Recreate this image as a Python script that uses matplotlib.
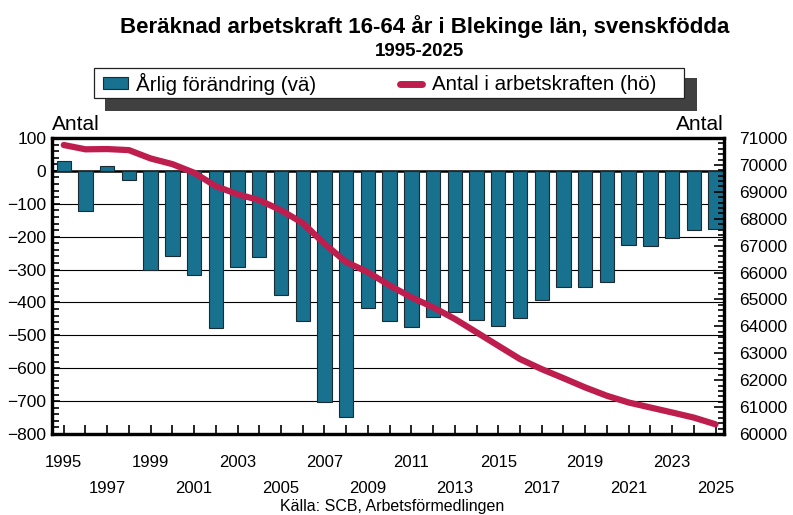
import matplotlib
matplotlib.use("Agg")
import matplotlib.pyplot as plt
from matplotlib.patches import Rectangle
from matplotlib.lines import Line2D
from matplotlib.ticker import MultipleLocator
import numpy as np

plt.rcParams['font.family'] = ['Liberation Sans', 'DejaVu Sans']

years = np.arange(1995, 2026)

# yearly change (left axis)
change = [30, -123, 14, -29, -300, -259, -317, -479, -292, -261,
          -377, -457, -703, -749, -418, -457, -476, -443, -428, -452,
          -473, -448, -392, -353, -353, -338, -226, -229, -204, -180,
          -177]

# labour force size (right axis)
labour = [70740, 70580, 70590, 70550, 70240, 70030, 69710, 69210, 68910, 68690,
          68315, 67840, 67070, 66390, 66015, 65520, 65080, 64710, 64275, 63780,
          63280, 62785, 62410, 62075, 61730, 61420, 61170, 60985, 60800, 60610,
          60360]

bar_color = '#17718f'
line_color = '#be1e4d'

fig = plt.figure(figsize=(7.93, 5.15), dpi=100)
ax = fig.add_axes([0.0656, 0.1573, 0.913 - 0.0656, 0.732 - 0.1573])

ax.bar(years, change, width=0.66, color=bar_color, edgecolor='#1c2b31',
       linewidth=0.8, zorder=3)
ax.set_xlim(1994.46, 2025.39)
ax.set_ylim(-800, 100)
ax.set_yticks(np.arange(-800, 101, 100))
ax.yaxis.set_minor_locator(MultipleLocator(20))
ax.grid(axis='y', color='black', linewidth=0.8, zorder=1)
ax.axhline(0, color='black', linewidth=1.8, zorder=2)

# year ticks, odd years labelled on alternating rows
labels = []
for y in years:
    if y % 2 == 0:
        labels.append('')
    elif (y - 1995) % 4 == 0:
        labels.append(str(y))
    else:
        labels.append('\n' + str(y))
ax.set_xticks(years, labels)
for t in ax.get_xticklabels():
    t.set_linespacing(1.95)

ax.tick_params(axis='x', direction='in', length=6.5, width=1.2, pad=15,
               labelsize=12)
ax.tick_params(axis='y', which='major', direction='in', length=6, width=1.2,
               pad=4, labelsize=12.5)
ax.tick_params(axis='y', which='minor', direction='in', length=5, width=1.2)
for s in ax.spines.values():
    s.set_linewidth(2.3)

ax2 = ax.twinx()
ax2.plot(years, labour, color=line_color, linewidth=4.5,
         solid_capstyle='round', solid_joinstyle='round', zorder=4)
ax2.set_ylim(60000, 71000)
ax2.set_yticks(np.arange(60000, 71001, 1000))
ax2.yaxis.set_minor_locator(MultipleLocator(200))
ax2.tick_params(axis='y', which='major', direction='in', length=7, width=1.2,
                pad=11, labelsize=12.5)
ax2.tick_params(axis='y', which='minor', direction='in', length=4, width=1.2)
for s in ax2.spines.values():
    s.set_linewidth(2.3)

ax.text(0.0, 1.012, 'Antal', transform=ax.transAxes, ha='left', va='bottom',
        fontsize=15)
ax.text(1.0, 1.012, 'Antal', transform=ax.transAxes, ha='right', va='bottom',
        fontsize=15)

# title
fig.text(0.536, 0.9476, 'Beräknad arbetskraft 16-64 år i Blekinge län, svenskfödda',
         ha='center', va='center', fontsize=16, fontweight='bold')
fig.text(0.5296, 0.9, '1995-2025', ha='center', va='center', fontsize=13.5,
         fontweight='bold')

# legend box with drop shadow
W, H = 793, 515
def fx(px):
    return px / W
def fy(py):
    return 1 - py / H

fig.patches.append(Rectangle((fx(105), fy(111)), fx(697) - fx(105), fy(78) - fy(111),
                             transform=fig.transFigure, facecolor='#404040',
                             edgecolor='none', zorder=1))
fig.patches.append(Rectangle((fx(94), fy(98)), fx(684) - fx(94), fy(68) - fy(98),
                             transform=fig.transFigure, facecolor='white',
                             edgecolor='#222222', linewidth=0.9, zorder=2))
fig.patches.append(Rectangle((fx(103), fy(89)), fx(128) - fx(103), fy(77) - fy(89),
                             transform=fig.transFigure, facecolor=bar_color,
                             edgecolor='#1c2b31', linewidth=0.8, zorder=3))
fig.text(fx(136), fy(84), 'Årlig förändring (vä)', ha='left', va='center',
         fontsize=14.8, zorder=3)
fig.lines.append(Line2D([fx(400), fx(422)], [fy(84), fy(84)],
                        transform=fig.transFigure, color=line_color, linewidth=5,
                        solid_capstyle='round', zorder=3))
fig.text(fx(432), fy(84), 'Antal i arbetskraften (hö)', ha='left', va='center',
         fontsize=14.8, zorder=3)

fig.text(0.494, 0.016, 'Källa: SCB, Arbetsförmedlingen', ha='center', va='center',
         fontsize=11.5)

fig.savefig('out.png', dpi=100)
